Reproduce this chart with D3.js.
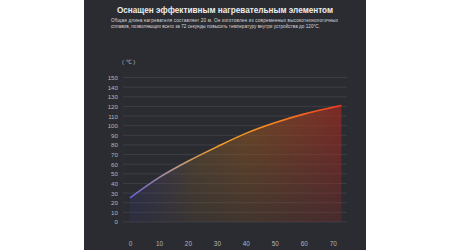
<!DOCTYPE html>
<html>
<head>
<meta charset="utf-8">
<script src="https://cdn.jsdelivr.net/npm/d3@7"></script>
<style>
  body { margin: 0; background: #fff; }
  svg { display: block; font-family: "Liberation Sans", Arial, sans-serif; }
</style>
</head>
<body>
<div id="chart"></div>
<script>
const seconds = [0, 10, 20, 30, 40, 50, 60, 70, 73];
const temps = [25, 46, 63, 78, 92, 103, 112, 119, 121];
const yTicks = [0, 10, 20, 30, 40, 50, 60, 70, 80, 90, 100, 110, 120, 130, 140, 150];
const xTicks = [0, 10, 20, 30, 40, 50, 60, 70];
const title = 'Оснащен эффективным нагревательным элементом';
const subtitle = [
  'Общая длина нагревателя составляет 20 м. Он изготовлен из современных высокотехнологичных',
  'сплавов, позволяющих всего за 72 секунды повысить температуру внутри устройства до 120°C.'
];

const W = 450, H = 250;
const svg = d3.select('#chart').append('svg')
  .attr('width', W).attr('height', H);

// dark panel
svg.append('rect')
  .attr('x', 84).attr('y', 0).attr('width', 282).attr('height', H)
  .attr('fill', '#2b2c32');

svg.append('text')
  .attr('x', 225).attr('y', 13)
  .attr('text-anchor', 'middle')
  .attr('font-size', 8.2).attr('font-weight', 'bold')
  .attr('fill', '#ececec')
  .text(title);

svg.selectAll('.sub')
  .data(subtitle)
  .enter().append('text')
  .attr('class', 'sub')
  .attr('x', 111)
  .attr('y', (d, i) => 22 + i * 6)
  .attr('font-size', 4.6)
  .attr('fill', '#d8d8d8')
  .attr('textLength', (d, i) => i === 0 ? 227 : 209)
  .attr('lengthAdjust', 'spacing')
  .text(d => d);

const x = d3.scaleLinear().domain([0, 70]).range([130, 332.7]);
const y = d3.scaleLinear().domain([0, 150]).range([222, 77.5]);

// grid
svg.append('g')
  .selectAll('line')
  .data(yTicks)
  .enter().append('line')
  .attr('x1', 123).attr('x2', 347)
  .attr('y1', d => y(d)).attr('y2', d => y(d))
  .attr('stroke', '#42434a').attr('stroke-width', 0.8);

// y labels
const yAxis = svg.append('g')
  .attr('transform', 'translate(118,0)')
  .call(d3.axisLeft(y).tickValues(yTicks).tickSize(0).tickPadding(0));
yAxis.select('.domain').remove();
yAxis.selectAll('text')
  .attr('fill', '#b4b4b8').attr('font-size', 6.2)
  .attr('font-family', '"Liberation Sans", Arial, sans-serif');

// x labels
const xAxis = svg.append('g')
  .attr('transform', 'translate(0,241)')
  .call(d3.axisBottom(x).tickValues(xTicks).tickSize(0).tickPadding(0));
xAxis.select('.domain').remove();
xAxis.selectAll('text')
  .attr('fill', '#b4b4b8').attr('font-size', 6.4)
  .attr('font-family', '"Liberation Sans", Arial, sans-serif');

svg.append('text')
  .attr('x', 122).attr('y', 64)
  .attr('font-size', 6).attr('fill', '#b4b4b8')
  .text('( ℃ )');

const data = seconds.map((s, i) => ({ s: s, t: temps[i] }));
const defs = svg.append('defs');

const lineGrad = defs.append('linearGradient')
  .attr('id', 'lineGrad').attr('gradientUnits', 'userSpaceOnUse')
  .attr('x1', x(0)).attr('x2', x(73)).attr('y1', 0).attr('y2', 0);
[[0, '#6a62d8'], [0.22, '#b89a86'], [0.4, '#f0a028'], [0.65, '#f58a22'], [1, '#ee3a22']]
  .forEach(d => lineGrad.append('stop').attr('offset', d[0]).attr('stop-color', d[1]));

const areaGrad = defs.append('linearGradient')
  .attr('id', 'areaGrad').attr('gradientUnits', 'userSpaceOnUse')
  .attr('x1', x(0)).attr('x2', x(73)).attr('y1', 0).attr('y2', 0);
[[0, '#3b3f9a', 0.35], [0.3, '#7a5a30', 0.55], [0.55, '#9a5a20', 0.6], [1, '#a02a22', 0.7]]
  .forEach(d => areaGrad.append('stop').attr('offset', d[0])
    .attr('stop-color', d[1]).attr('stop-opacity', d[2]));

const fadeGrad = defs.append('linearGradient')
  .attr('id', 'fadeGrad').attr('gradientUnits', 'userSpaceOnUse')
  .attr('x1', 0).attr('x2', 0).attr('y1', y(121)).attr('y2', y(0));
fadeGrad.append('stop').attr('offset', 0).attr('stop-color', '#fff').attr('stop-opacity', 1);
fadeGrad.append('stop').attr('offset', 1).attr('stop-color', '#fff').attr('stop-opacity', 0.35);
defs.append('mask').attr('id', 'fade')
  .append('rect').attr('x', 84).attr('y', 0).attr('width', 282).attr('height', H)
  .attr('fill', 'url(#fadeGrad)');

const area = d3.area()
  .x(d => x(d.s)).y0(y(0)).y1(d => y(d.t))
  .curve(d3.curveMonotoneX);
svg.append('path')
  .datum(data)
  .attr('d', area)
  .attr('fill', 'url(#areaGrad)')
  .attr('mask', 'url(#fade)');

const line = d3.line()
  .x(d => x(d.s)).y(d => y(d.t))
  .curve(d3.curveMonotoneX);
svg.append('path')
  .datum(data)
  .attr('d', line)
  .attr('fill', 'none')
  .attr('stroke', 'url(#lineGrad)')
  .attr('stroke-width', 1.6);
</script>
</body>
</html>
